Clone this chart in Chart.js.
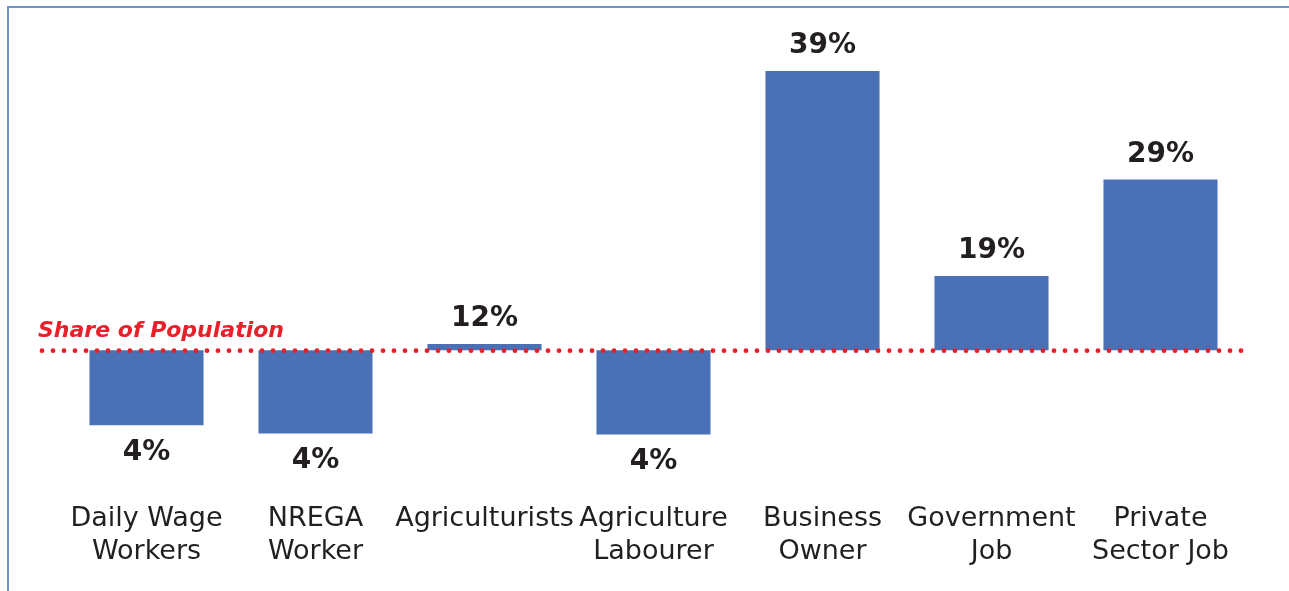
<!DOCTYPE html>
<html>
<head>
<meta charset="utf-8">
<script src="https://cdn.jsdelivr.net/npm/chart.js@4/dist/chart.umd.min.js"></script>
<style>
  html, body { margin: 0; padding: 0; background: #fff; }
  #wrap { position: relative; width: 1289px; height: 591px; overflow: hidden; }
  #frame { position: absolute; left: 7px; top: 6px; width: 1300px; height: 600px;
           border-top: 2px solid #7090c8; border-left: 2px solid #7090c8; }
  canvas { position: absolute; left: 0; top: 0; }
</style>
</head>
<body>
<div id="wrap">
  <div id="frame"></div>
  <canvas id="occupationChart" width="1289" height="591"></canvas>
</div>
<script>
const categories = [
    ['Daily Wage', 'Workers'],
    ['NREGA', 'Worker'],
    'Agriculturists',
    ['Agriculture', 'Labourer'],
    ['Business', 'Owner'],
    ['Government', 'Job'],
    ['Private', 'Sector Job']
];
// share of each occupation group (%)
const groupShare = [4.4, 3.6, 12.4, 3.5, 39.3, 19.1, 28.6];
// share of population, drawn as the dotted reference line
const populationShare = 11.8;

const barColor = '#4a71b5';
const red = '#e8202a';
const textColor = '#231f20';

// bars float from the population line to the group share
const floating = groupShare.map(v => [populationShare, v]);

const overlay = {
    id: 'overlay',
    afterDatasetsDraw(chart) {
        const { ctx, chartArea, scales: { y } } = chart;
        const yPop = y.getPixelForValue(populationShare);

        ctx.save();
        // dotted line
        ctx.fillStyle = red;
        for (let px = chartArea.left - 20; px <= chartArea.right; px += 11) {
            ctx.beginPath();
            ctx.arc(px, yPop + 0.5, 2.4, 0, Math.PI * 2);
            ctx.fill();
        }
        ctx.font = 'italic bold 22px "DejaVu Sans"';
        ctx.textAlign = 'left';
        ctx.textBaseline = 'alphabetic';
        ctx.fillText('Share of Population', chartArea.left - 24, yPop - 13);

        // value labels
        ctx.fillStyle = textColor;
        ctx.font = 'bold 28px "DejaVu Sans"';
        ctx.textAlign = 'center';
        ctx.textBaseline = 'middle';
        chart.getDatasetMeta(0).data.forEach((bar, i) => {
            const v = groupShare[i];
            const up = v >= populationShare;
            const yEnd = y.getPixelForValue(v);
            ctx.fillText(Math.round(v) + '%', bar.x, up ? yEnd - 25 : yEnd + 27);
        });
        ctx.restore();
    }
};

new Chart(document.getElementById('occupationChart'), {
    type: 'bar',
    data: {
        labels: categories,
        datasets: [{
            data: floating,
            backgroundColor: barColor,
            borderWidth: 0,
            categoryPercentage: 1,
            barPercentage: 0.675
        }]
    },
    options: {
        responsive: false,
        animation: false,
        layout: { padding: { top: 13, left: 62, right: 44, bottom: 0 } },
        plugins: { legend: { display: false }, tooltip: { enabled: false } },
        scales: {
            x: {
                grid: { display: false, drawTicks: false },
                border: { display: false },
                ticks: {
                    color: textColor,
                    font: { family: 'DejaVu Sans', size: 27, lineHeight: 1.24 },
                    padding: 32,
                    maxRotation: 0,
                    autoSkip: false
                },
                afterFit(scale) { scale.height = 121; }
            },
            y: {
                display: false,
                min: 0,
                max: 45
            }
        }
    },
    plugins: [overlay]
});
</script>
</body>
</html>
